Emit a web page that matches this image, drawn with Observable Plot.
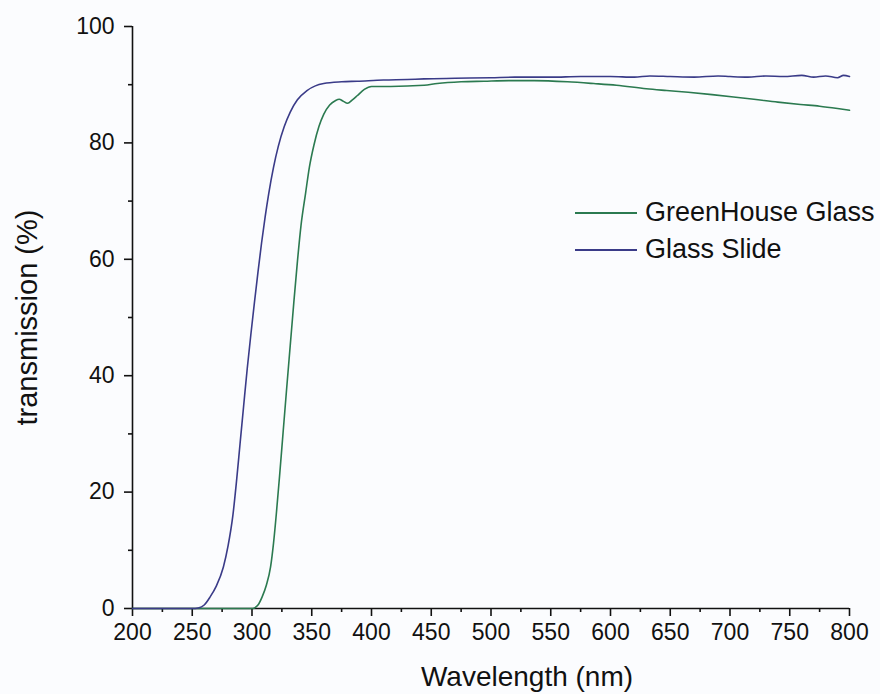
<!DOCTYPE html>
<html>
<head>
<meta charset="utf-8">
<script src="https://cdn.jsdelivr.net/npm/d3@7"></script>
<script src="https://cdn.jsdelivr.net/npm/@observablehq/plot@0.6"></script>
<style>
  html, body { margin: 0; padding: 0; background: #fbfcfe; }
  #wrap { position: relative; width: 880px; height: 694px; font-family: "Liberation Sans", Arial, Helvetica, sans-serif; }
  #legend { position: absolute; left: 575px; top: 194px; font-size: 27px; color: #111; }
  .row { display: flex; align-items: center; height: 37px; white-space: nowrap; }
  .sw { width: 62px; height: 0; border-top: 2px solid; margin-right: 8px; }
</style>
</head>
<body>
<div id="wrap"><div id="legend"></div></div>
<script>
// ---- data ----
const seriesNames = ["GreenHouse Glass", "Glass Slide"];
const seriesColors = ["#2b7a50", "#3a3b88"];

const slideWavelength = [200, 230, 250, 255, 260, 265, 270, 276, 280, 284, 287, 290, 293, 296, 299, 302, 305, 308, 311, 314, 318, 322, 327, 332, 338, 346, 353, 360, 375, 388, 410, 430, 444, 470, 500, 520, 550, 575, 600, 620, 633, 650, 670, 690, 700, 715, 730, 745, 760, 770, 780, 790, 795, 800];
const slideT = [0, 0, 0, 0.1, 0.6, 2.0, 3.8, 7.1, 10.8, 16.0, 21.8, 28.3, 34.8, 41.2, 47.0, 52.5, 57.8, 62.8, 67.3, 71.3, 75.8, 79.4, 82.8, 85.3, 87.4, 89.0, 89.8, 90.2, 90.5, 90.6, 90.8, 90.9, 91.0, 91.1, 91.2, 91.3, 91.3, 91.4, 91.4, 91.3, 91.5, 91.4, 91.3, 91.5, 91.4, 91.3, 91.5, 91.4, 91.6, 91.3, 91.5, 91.2, 91.6, 91.4];

const greenWavelength = [200, 250, 300, 302, 305, 308.5, 312, 315.5, 318, 320.5, 323, 326, 329, 332, 335, 338, 341, 344.8, 348, 351.8, 356, 360, 365, 370, 373, 376, 380, 384, 388, 394, 400, 416, 444, 455, 475, 494, 515, 536, 564, 586, 605, 630, 647, 665, 685, 703, 720, 740, 759, 775, 790, 800];
const greenT = [0, 0, 0, 0.1, 0.6, 2.0, 4.0, 7.1, 11.2, 16.6, 22.6, 30.2, 37.8, 45.2, 52.6, 59.6, 65.8, 71.3, 75.8, 79.6, 82.8, 84.9, 86.5, 87.3, 87.5, 87.2, 86.8, 87.4, 88.1, 89.2, 89.7, 89.7, 89.9, 90.2, 90.5, 90.6, 90.7, 90.7, 90.5, 90.2, 89.9, 89.3, 89.0, 88.7, 88.3, 87.9, 87.5, 87.0, 86.6, 86.3, 85.9, 85.6];

const xMajor = [200, 250, 300, 350, 400, 450, 500, 550, 600, 650, 700, 750, 800];
const xMinor = [225, 275, 325, 375, 425, 475, 525, 575, 625, 675, 725, 775];
const yMajor = [0, 20, 40, 60, 80, 100];
const yMinor = [10, 30, 50, 70, 90];
const xTitle = "Wavelength (nm)";
const yTitle = "transmission (%)";

// ---- build table ----
const rows = [];
greenWavelength.forEach((w, i) => rows.push({series: seriesNames[0], w, t: greenT[i]}));
slideWavelength.forEach((w, i) => rows.push({series: seriesNames[1], w, t: slideT[i]}));

const font = "'Liberation Sans', Arial, Helvetica, sans-serif";
const chart = Plot.plot({
  width: 880,
  height: 694,
  marginLeft: 132,
  marginRight: 31,
  marginTop: 26,
  marginBottom: 86,
  style: {background: "transparent", fontFamily: font, color: "#111", overflow: "visible"},
  x: {domain: [200, 800]},
  y: {domain: [0, 100]},
  color: {domain: seriesNames, range: seriesColors},
  marks: [
    Plot.axisX(xMinor, {tickSize: 4, text: null, strokeWidth: 1.6, label: null}),
    Plot.axisX(xMajor, {tickSize: 8, tickPadding: 7, fontSize: 23, strokeWidth: 1.6, label: null, tickFormat: d => String(d)}),
    Plot.axisY(yMinor, {tickSize: 4, text: null, strokeWidth: 1.6, label: null}),
    Plot.axisY(yMajor, {tickSize: 8, tickPadding: 10, fontSize: 23, strokeWidth: 1.6, label: null, tickFormat: d => String(d)}),
    Plot.ruleX([200], {strokeWidth: 1.6, stroke: "#111"}),
    Plot.ruleY([0], {strokeWidth: 1.6, stroke: "#111"}),
    Plot.line(rows, {x: "w", y: "t", z: "series", stroke: "series", strokeWidth: 1.6, curve: "monotone-x"}),
    Plot.text([xTitle], {text: d => d, frameAnchor: "bottom", dx: 36, dy: 69, fontSize: 28, textAnchor: "middle", lineAnchor: "middle", fill: "#111"}),
    Plot.text([yTitle], {text: d => d, frameAnchor: "left", dx: -105, rotate: -90, fontSize: 29, textAnchor: "middle", lineAnchor: "middle", fill: "#111"})
  ]
});
document.getElementById("wrap").prepend(chart);

const legend = document.getElementById("legend");
seriesNames.forEach((name, i) => {
  const row = document.createElement("div");
  row.className = "row";
  const sw = document.createElement("span");
  sw.className = "sw";
  sw.style.borderColor = seriesColors[i];
  const tx = document.createElement("span");
  tx.textContent = name;
  row.append(sw, tx);
  legend.append(row);
});
</script>
</body>
</html>
